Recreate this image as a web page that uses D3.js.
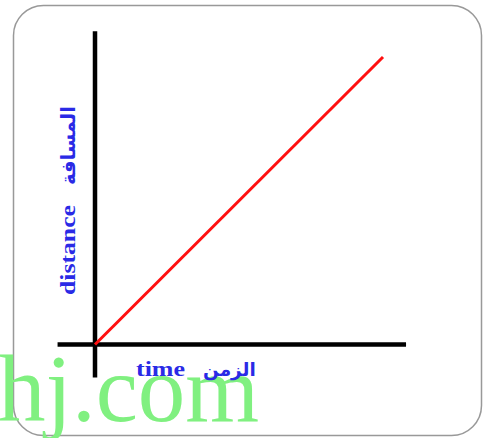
<!DOCTYPE html>
<html>
<head>
<meta charset="utf-8">
<script src="https://cdn.jsdelivr.net/npm/d3@7"></script>
<style>
html,body{margin:0;padding:0;background:#fff;}
svg{display:block;}
</style>
</head>
<body>
<script>
// Data
const timeValues = [0, 10];
const distanceValues = [0, 10];
const xLabelParts = ["time", "الزمن"];
const yLabelParts = ["distance", "المسافة"];
const watermarkText = "hj.com";

const W = 484, H = 438;
const svg = d3.select("body").append("svg").attr("width", W).attr("height", H);

// frame
svg.append("rect").attr("x", 13.5).attr("y", 5.5).attr("width", 468).attr("height", 430)
  .attr("rx", 30).attr("ry", 30).attr("fill", "#fff").attr("stroke", "#999").attr("stroke-width", 1.5);

// watermark (behind labels)
svg.append("text").attr("x", -2).attr("y", 421).attr("font-family", "Liberation Serif, serif")
  .attr("font-size", 95).attr("fill", "#80f080").text(watermarkText);

const x = d3.scaleLinear().domain([0, 10]).range([95, 383]);
const y = d3.scaleLinear().domain([0, 10]).range([344.5, 57]);

// axes (extend beyond data origin)
svg.append("line").attr("x1", x(-1.3)).attr("x2", x(10.8)).attr("y1", y(0)).attr("y2", y(0))
  .attr("stroke", "#000").attr("stroke-width", 4.5);
svg.append("line").attr("x1", x(0)).attr("x2", x(0)).attr("y1", y(-1.15)).attr("y2", y(10.9))
  .attr("stroke", "#000").attr("stroke-width", 4.5);

// red line
const line = d3.line().x((d, i) => x(timeValues[i])).y(d => y(d));
svg.append("path").datum(distanceValues).attr("d", line)
  .attr("fill", "none").attr("stroke", "#ff1010").attr("stroke-width", 3);

const blue = "#2a2ae6";
// x label
svg.append("text").attr("x", 136).attr("y", 376).attr("font-family", "Liberation Serif, serif")
  .attr("font-weight", "bold").attr("font-size", 22).attr("fill", blue)
  .attr("textLength", 49).attr("lengthAdjust", "spacingAndGlyphs").text(xLabelParts[0]);
svg.append("text").attr("x", 203).attr("y", 376).attr("font-family", "DejaVu Sans, Noto Sans, sans-serif")
  .attr("font-weight", "bold").attr("font-size", 18.5).attr("fill", blue)
  .attr("direction", "rtl").attr("text-anchor", "end").text(xLabelParts[1]);

// y labels (rotated)
const gy = svg.append("g").attr("transform", "translate(75,295) rotate(-90)");
gy.append("text").attr("x", 0).attr("y", 0).attr("font-family", "Liberation Serif, serif")
  .attr("font-weight", "bold").attr("font-size", 22).attr("fill", blue)
  .attr("textLength", 90).attr("lengthAdjust", "spacingAndGlyphs").text(yLabelParts[0]);
gy.append("text").attr("x", 110).attr("y", 0).attr("font-family", "DejaVu Sans, Noto Sans, sans-serif")
  .attr("font-weight", "bold").attr("font-size", 19.5).attr("fill", blue)
  .attr("direction", "rtl").attr("text-anchor", "end").text(yLabelParts[1]);
</script>
</body>
</html>
